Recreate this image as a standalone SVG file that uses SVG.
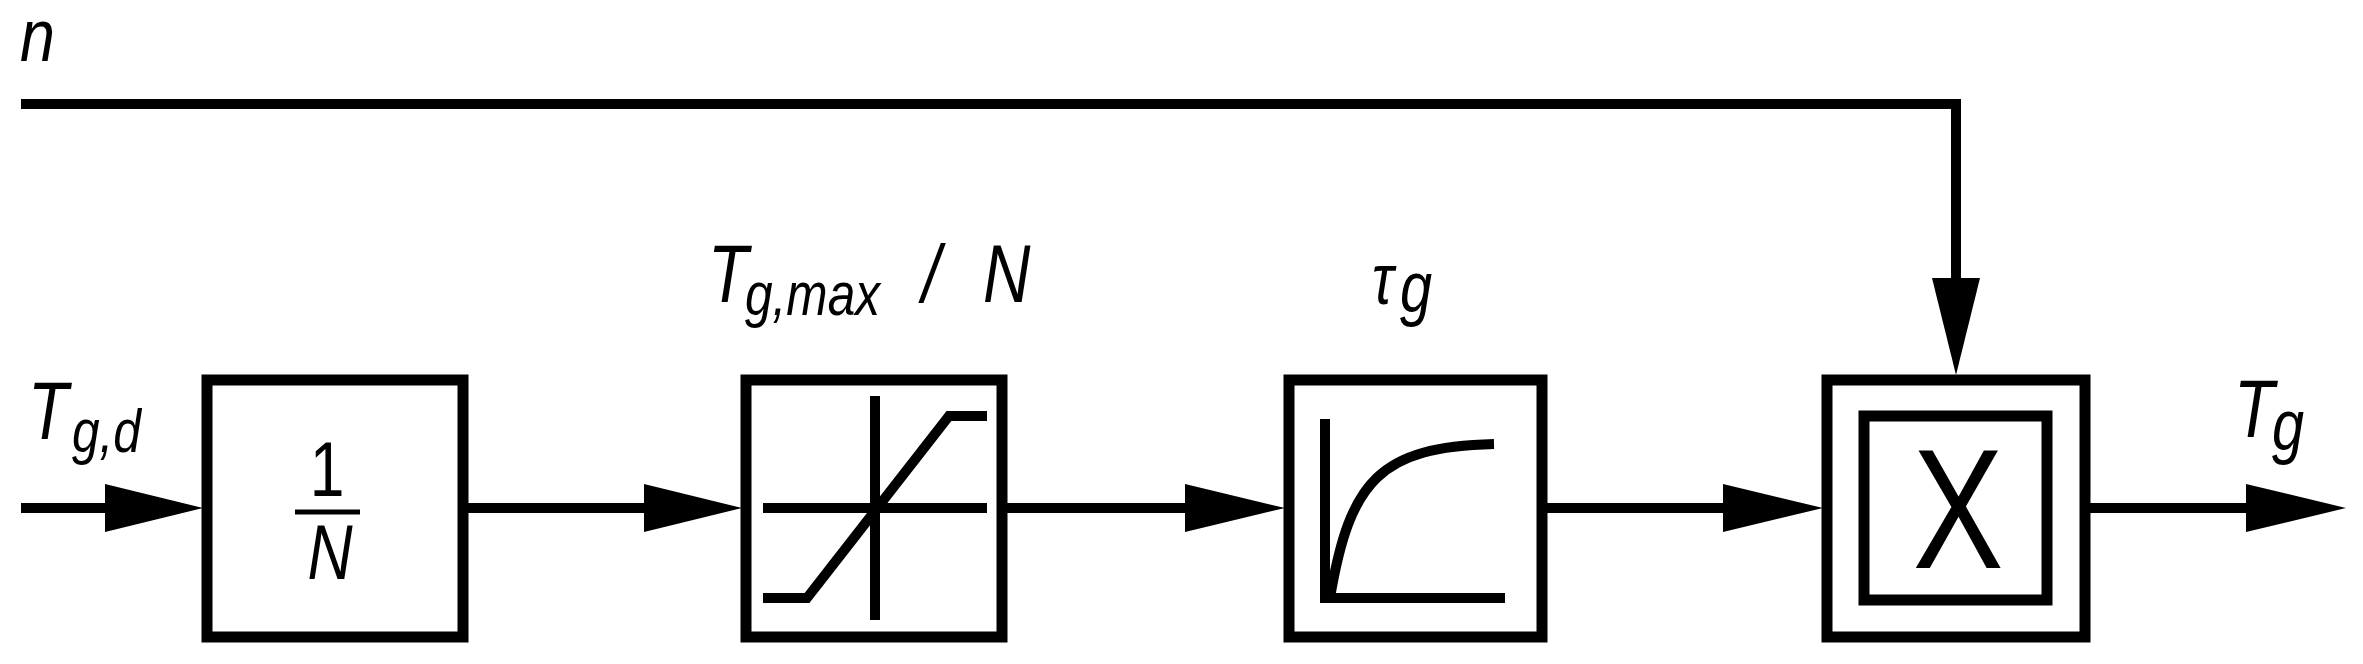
<svg xmlns="http://www.w3.org/2000/svg" width="2363" height="664" viewBox="0 0 2363 664">
<style>
.b{fill:none;stroke:#000;stroke-width:11}
.l{fill:none;stroke:#000;stroke-width:10}
.h{fill:#000}
.t{font-family:"Liberation Sans",Arial,sans-serif;font-style:italic;fill:#000}
.u{font-family:"Liberation Sans",Arial,sans-serif;fill:#000}
</style>
<rect width="2363" height="664" fill="#fff"/>
<g id="connectors">
<path class="l" d="M21,104 H1956 V285"/>
<polygon class="h" points="1932,278 1980,278 1956,375"/>
<path class="l" d="M21,508 H110"/>
<polygon class="h" points="105,484 203,508 105,532"/>
<path class="l" d="M467,508 H650"/>
<polygon class="h" points="644,484 742,508 644,532"/>
<path class="l" d="M1006,508 H1190"/>
<polygon class="h" points="1185,484 1285,508 1185,532"/>
<path class="l" d="M1546,508 H1728"/>
<polygon class="h" points="1723,484 1823,508 1723,532"/>
<path class="l" d="M2089,508 H2250"/>
<polygon class="h" points="2246,484 2346,508 2246,532"/>
</g>
<g id="labels">
<text class="t" font-size="74" transform="translate(20,61) scale(0.85,1)">n</text>
<text class="t" font-size="82" transform="translate(28,439) scale(0.8,1)">T</text>
<text class="t" font-size="62" transform="translate(72,452) scale(0.8,1)">g,d</text>
<text class="t" font-size="82" transform="translate(708,302) scale(0.8,1)">T</text>
<text class="t" font-size="62" transform="translate(745,315) scale(0.8,1)">g,max</text>
<text class="t" font-size="82" transform="translate(922,302) scale(0.8,1)">/</text>
<text class="t" font-size="82" transform="translate(983,302) scale(0.8,1)">N</text>
<text class="t" font-size="72" transform="translate(1372,304) scale(0.8,1)">τ</text>
<text class="t" font-size="72" transform="translate(1400,312) scale(0.8,1)">g</text>
<text class="t" font-size="82" transform="translate(2234,437) scale(0.8,1)">T</text>
<text class="t" font-size="72" transform="translate(2272,450) scale(0.8,1)">g</text>
</g>
<g id="gain">
<rect class="b" x="207" y="380" width="256" height="257"/>
<text class="u" font-size="78" text-anchor="middle" transform="translate(327,496) scale(0.8,1)">1</text>
<line x1="295" y1="512" x2="360" y2="512" stroke="#000" stroke-width="5"/>
<text class="t" font-size="78" text-anchor="middle" transform="translate(330,579) scale(0.8,1)">N</text>
</g>
<g id="saturation">
<rect class="b" x="746" y="380" width="256" height="257"/>
<path class="l" d="M763,508 H987 M875,396 V620 M763,598 H807 L949,416 H987" stroke-width="9"/>
</g>
<g id="lag">
<rect class="b" x="1289" y="380" width="253" height="257"/>
<path class="l" d="M1325,419 V598 H1505" stroke-width="9"/>
<path class="l" d="M1330,598 C1350,480 1380,447 1494,444" stroke-width="9"/>
</g>
<g id="multiply">
<rect class="b" x="1827" y="380" width="258" height="257"/>
<rect class="b" x="1864" y="416" width="183" height="184"/>
<text class="u" font-size="170" text-anchor="middle" transform="translate(1958,568) scale(0.8,1)">X</text>
</g>
</svg>
